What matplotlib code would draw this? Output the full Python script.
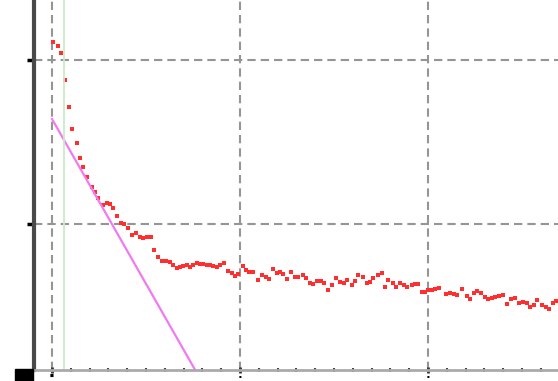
import numpy as np
import matplotlib
matplotlib.use('Agg')
import matplotlib.pyplot as plt
from matplotlib.ticker import MultipleLocator
from matplotlib.patches import Rectangle

# measured decay points
t = [0.005, 0.032, 0.048, 0.069, 0.090, 0.106, 0.133, 0.149, 0.165, 0.186,
     0.213, 0.229, 0.245, 0.271, 0.293, 0.309, 0.324, 0.346, 0.367, 0.383,
     0.404, 0.426, 0.447, 0.468, 0.484, 0.505, 0.527, 0.543, 0.564, 0.585,
     0.606, 0.628, 0.644, 0.665, 0.681, 0.697, 0.718, 0.734, 0.750, 0.771,
     0.787, 0.803, 0.824, 0.840, 0.856, 0.878, 0.894, 0.915, 0.936, 0.957,
     0.973, 0.989, 1.016, 1.032, 1.048, 1.069, 1.096, 1.117, 1.138, 1.154,
     1.176, 1.197, 1.213, 1.229, 1.250, 1.271, 1.293, 1.309, 1.335, 1.351,
     1.372, 1.388, 1.410, 1.431, 1.447, 1.468, 1.489, 1.511, 1.532, 1.553,
     1.569, 1.596, 1.612, 1.628, 1.654, 1.676, 1.691, 1.707, 1.734, 1.755,
     1.771, 1.787, 1.814, 1.830, 1.851, 1.872, 1.888, 1.915, 1.931, 1.947,
     1.968, 1.984, 2.000, 2.021, 2.037, 2.059, 2.096, 2.117, 2.138, 2.154,
     2.181, 2.207, 2.223, 2.245, 2.261, 2.282, 2.303, 2.319, 2.340, 2.356,
     2.378, 2.399, 2.420, 2.441, 2.463, 2.484, 2.505, 2.527, 2.543, 2.564,
     2.580, 2.606, 2.628, 2.644, 2.665, 2.681]
signal = [2.110, 2.085, 2.043, 1.878, 1.713, 1.579, 1.494, 1.402, 1.348, 1.287,
          1.226, 1.195, 1.159, 1.116, 1.128, 1.122, 1.098, 1.049, 1.006, 1.000,
          0.976, 0.933, 0.945, 0.921, 0.915, 0.921, 0.921, 0.841, 0.799, 0.774,
          0.774, 0.768, 0.750, 0.732, 0.738, 0.744, 0.750, 0.738, 0.750, 0.762,
          0.756, 0.756, 0.750, 0.750, 0.744, 0.738, 0.750, 0.762, 0.713, 0.701,
          0.683, 0.695, 0.744, 0.720, 0.707, 0.707, 0.659, 0.689, 0.677, 0.665,
          0.726, 0.701, 0.707, 0.695, 0.665, 0.707, 0.677, 0.677, 0.689, 0.671,
          0.640, 0.634, 0.652, 0.652, 0.640, 0.598, 0.628, 0.671, 0.646, 0.640,
          0.659, 0.628, 0.652, 0.689, 0.677, 0.640, 0.646, 0.671, 0.689, 0.701,
          0.616, 0.659, 0.640, 0.616, 0.640, 0.628, 0.616, 0.628, 0.634, 0.634,
          0.585, 0.585, 0.598, 0.598, 0.604, 0.610, 0.573, 0.579, 0.573, 0.567,
          0.604, 0.561, 0.543, 0.579, 0.591, 0.579, 0.555, 0.543, 0.549, 0.555,
          0.561, 0.567, 0.512, 0.543, 0.549, 0.518, 0.524, 0.518, 0.494, 0.506,
          0.537, 0.506, 0.494, 0.482, 0.518, 0.530]

# initial slope fit
fit_t = [0.0, 0.80]
fit_y = [1.64, 0.032]

marker_t = 0.066  # green cursor

fig = plt.figure(figsize=(5.58, 3.81), dpi=100)
ax = fig.add_axes([34/558, 11/381, 524/558, 370/381])

ax.plot(t, signal, 's', color='#ff2f2f', markersize=2.4, markeredgewidth=0)
ax.plot(fit_t, fit_y, color='#f07af0', lw=1.6)
ax.axvline(marker_t, color='#c8ecc8', lw=1.3)

ax.set_xlim(-0.096, 2.691)
ax.set_ylim(0.110, 2.366)

ax.xaxis.set_major_locator(MultipleLocator(1))
ax.yaxis.set_major_locator(MultipleLocator(1))
ax.xaxis.set_minor_locator(MultipleLocator(0.1))
ax.yaxis.set_minor_locator(MultipleLocator(0.1))
ax.grid(True, which='major', color='#959595', lw=1.5, ls=(0, (4, 2.4)))
ax.set_axisbelow(True)

for s in ['top', 'right']:
    ax.spines[s].set_visible(False)
ax.spines['left'].set_color('#4a4a4a')
ax.spines['left'].set_linewidth(3)
ax.spines['bottom'].set_color('#aaaaaa')
ax.spines['bottom'].set_linewidth(2)

ax.tick_params(axis='y', which='major', direction='out', length=5, width=2.5,
               color='black', labelleft=False)
ax.tick_params(axis='x', which='major', direction='inout', length=4, width=2,
               color='#333333', labelsize=3, pad=1)
ax.tick_params(which='minor', direction='inout', length=2.5, width=1.5,
               color='#444444')
ax.set_xticklabels(['', '\u25a0', '\u25aa', '\u25aa'])

# cropped label block in the corner
fig.patches.append(Rectangle((15/558, 0), 18/558, 12/381, transform=fig.transFigure,
                             color='black', zorder=5))

plt.savefig('out.png', dpi=100)
